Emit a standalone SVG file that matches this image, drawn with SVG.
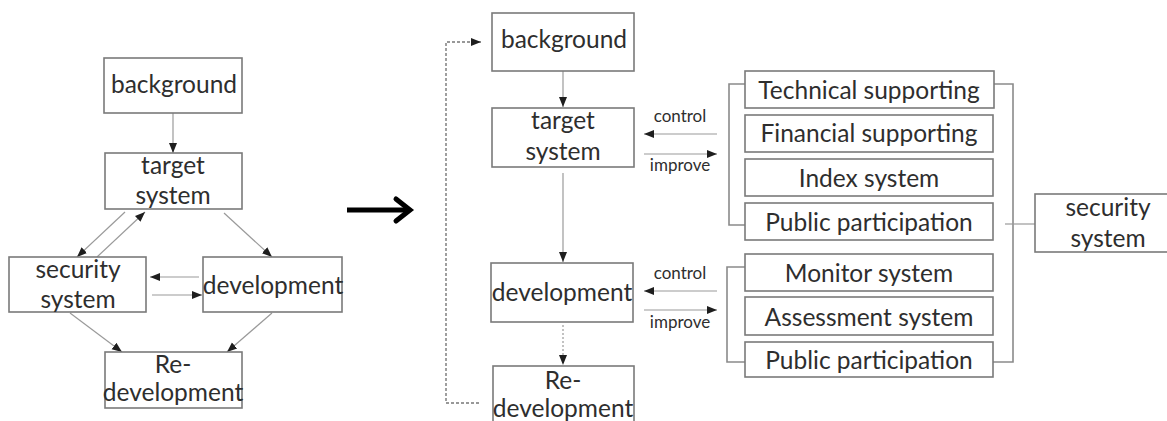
<svg xmlns="http://www.w3.org/2000/svg" width="1167" height="421" viewBox="0 0 1167 421">
<style>
.box{fill:#fff;stroke:#7a7a7a;stroke-width:1.6}
.t{font-family:Lato,"Open Sans","Liberation Sans",sans-serif;font-size:24.5px;fill:#2e2e2e;text-anchor:middle}
.s{font-family:Lato,"Open Sans","Liberation Sans",sans-serif;font-size:17px;fill:#2e2e2e;text-anchor:middle}
.ln{fill:none;stroke:#9a9a9a;stroke-width:1.2}
.br{fill:none;stroke:#8a8a8a;stroke-width:1.6}
.dot{fill:none;stroke:#777;stroke-width:1.4;stroke-dasharray:3 2}
</style>
<defs>
<marker id="ah" markerUnits="userSpaceOnUse" markerWidth="10" markerHeight="10" viewBox="0 0 10 10" refX="10" refY="5" orient="auto">
<path d="M0,1 L10,5 L0,9 Z" fill="#1e1e1e"/>
</marker>
</defs>
<rect width="1167" height="421" fill="#fff"/>

<g id="connectors">
<!-- left diagram -->
<line class="ln" x1="173" y1="113" x2="173" y2="153" marker-end="url(#ah)"/>
<line class="ln" x1="125" y1="212" x2="77" y2="257" marker-end="url(#ah)"/>
<line class="ln" x1="97" y1="257" x2="145" y2="212" marker-end="url(#ah)"/>
<line class="ln" x1="224" y1="213" x2="272" y2="257" marker-end="url(#ah)"/>
<line class="ln" x1="199" y1="277" x2="150" y2="277" marker-end="url(#ah)"/>
<line class="ln" x1="152" y1="295" x2="202" y2="295" marker-end="url(#ah)"/>
<line class="ln" x1="70" y1="313" x2="122" y2="352" marker-end="url(#ah)"/>
<line class="ln" x1="272" y1="313" x2="227" y2="352" marker-end="url(#ah)"/>
<!-- big arrow -->
<line x1="347" y1="210" x2="409" y2="210" stroke="#000" stroke-width="5"/>
<polyline points="396,199 410,210 396,221" fill="none" stroke="#000" stroke-width="5" stroke-linejoin="miter" stroke-linecap="round"/>
<!-- right diagram -->
<line class="ln" x1="563" y1="71" x2="563" y2="107" marker-end="url(#ah)"/>
<line class="ln" x1="563" y1="173" x2="563" y2="262" marker-end="url(#ah)"/>
<line class="ln" x1="563" y1="325" x2="563" y2="365" stroke-dasharray="2 2" marker-end="url(#ah)"/>
<polyline class="dot" points="479,403 446,403 446,42 472,42"/>
<line x1="472" y1="42" x2="481" y2="42" stroke="#777" stroke-width="1.4" marker-end="url(#ah)"/>
<line class="ln" x1="717" y1="134" x2="644" y2="134" marker-end="url(#ah)"/>
<line class="ln" x1="644" y1="154" x2="717" y2="154" marker-end="url(#ah)"/>
<line class="ln" x1="717" y1="291" x2="644" y2="291" marker-end="url(#ah)"/>
<line class="ln" x1="644" y1="310" x2="717" y2="310" marker-end="url(#ah)"/>
<polyline class="br" points="745,84 729,84 729,225 745,225"/>
<polyline class="br" points="745,267 727,267 727,362 745,362"/>
<polyline class="br" points="994,84 1013,84 1013,362 993,362"/>
<line class="ln" x1="1005" y1="224" x2="1035" y2="224"/>
</g>

<!-- left diagram nodes -->
<g id="l-background"><rect class="box" x="104" y="58" width="138" height="55"/><text class="t" x="174" y="93">background</text></g>
<g id="l-target"><rect class="box" x="105" y="153" width="137" height="56"/><text class="t" x="173" y="174">target</text><text class="t" x="173" y="204">system</text></g>
<g id="l-security"><rect class="box" x="9" y="257" width="137" height="55"/><text class="t" x="78" y="278">security</text><text class="t" x="78" y="308">system</text></g>
<g id="l-development"><rect class="box" x="203" y="257" width="139" height="55"/><text class="t" x="273" y="294">development</text></g>
<g id="l-redevelopment"><rect class="box" x="105" y="352" width="137" height="56"/><text class="t" x="173" y="373">Re-</text><text class="t" x="173" y="401">development</text></g>

<!-- right diagram nodes -->
<g id="r-background"><rect class="box" x="492" y="13" width="142" height="58"/><text class="t" x="564" y="48">background</text></g>
<g id="r-target"><rect class="box" x="492" y="108" width="142" height="59"/><text class="t" x="563" y="129">target</text><text class="t" x="563" y="160">system</text></g>
<g id="r-development"><rect class="box" x="491" y="263" width="142" height="59"/><text class="t" x="562" y="301">development</text></g>
<g id="r-redevelopment"><rect class="box" x="493" y="366" width="141" height="70"/><text class="t" x="563" y="389">Re-</text><text class="t" x="563" y="417">development</text></g>

<g id="label-control-1"><text class="s" x="680" y="122">control</text></g>
<g id="label-improve-1"><text class="s" x="680" y="171">improve</text></g>
<g id="label-control-2"><text class="s" x="680" y="279">control</text></g>
<g id="label-improve-2"><text class="s" x="680" y="328">improve</text></g>

<g id="technical"><rect class="box" x="745" y="71" width="249" height="37"/><text class="t" x="869" y="99">Technical supporting</text></g>
<g id="financial"><rect class="box" x="745" y="115" width="248" height="37"/><text class="t" x="869" y="142">Financial supporting</text></g>
<g id="index"><rect class="box" x="745" y="159" width="248" height="37"/><text class="t" x="869" y="187">Index system</text></g>
<g id="public1"><rect class="box" x="745" y="203" width="248" height="37"/><text class="t" x="869" y="231">Public participation</text></g>
<g id="monitor"><rect class="box" x="745" y="254" width="248" height="37"/><text class="t" x="869" y="282">Monitor system</text></g>
<g id="assessment"><rect class="box" x="745" y="297" width="248" height="38"/><text class="t" x="869" y="326">Assessment system</text></g>
<g id="public2"><rect class="box" x="745" y="342" width="248" height="35"/><text class="t" x="869" y="369">Public participation</text></g>

<g id="r-security"><rect class="box" x="1035" y="194" width="150" height="58"/><text class="t" x="1108" y="216">security</text><text class="t" x="1108" y="247">system</text></g>
</svg>
